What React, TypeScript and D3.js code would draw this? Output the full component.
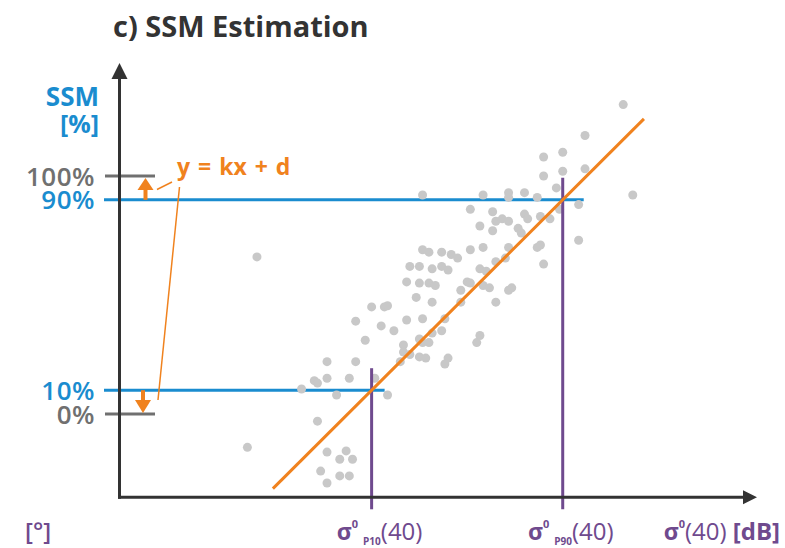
import { useEffect, useRef } from "react";
import * as d3 from "d3";

// backscatter sigma0(40) [dB] vs. surface soil moisture [%]
const sigmaValues = [
  -9.2, -10.4, -11.1, -11.7, -11.1, -10.4, -11.7, -11.3, -8.9, -15.5,
  -13.6, -12.8, -12.8, -12.3, -11.9, -11.2, -10.6, -14.0, -13.3, -12.3,
  -12.2, -11.8, -11.5, -13.2, -13.0, -12.8, -13.7, -13.3, -12.5, -12.4,
  -10.6, -20.7, -15.5, -15.3, -14.9, -14.6, -14.4, -14.0, -13.6, -12.8,
  -11.9, -11.8, -11.7, -15.9, -15.6, -15.2, -14.9, -14.7, -13.7, -13.5,
  -13.2, -12.9, -16.0, -15.6, -15.3, -15.1, -14.1, -14.3, -14.0, -13.6,
  -13.4, -12.8, -12.7, -15.7, -15.2, -14.3, -13.2, -17.1, -16.7, -16.6,
  -17.6, -16.0, -15.5, -16.8, -16.4, -14.8, -14.9, -15.2, -15.6, -15.5,
  -15.3, -17.3, -16.1, -16.1, -15.9, -16.2, -15.6, -15.4, -13.7, -13.8,
  -14.7, -14.8, -18.5, -17.6, -18.9, -18.8, -18.5, -17.8, -17.0, -19.3,
  -18.2, -16.6, -18.8, -21.0, -18.5, -17.9, -18.1, -17.7, -18.7, -18.1,
  -17.8, -18.5,
];
const ssmValues = [
  130, 117, 110, 108, 102, 103, 100, 95, 92, 92,
  92, 93, 91, 93, 91, 86, 88, 86, 85, 84,
  82, 83, 82, 81, 82, 81, 79, 77, 78, 76,
  73, 66, 69, 68, 68, 67, 65.5, 69, 70, 70,
  70, 71, 63, 62, 62, 61, 62, 60.5, 61, 60,
  64, 65.5, 55.5, 55, 55, 54, 55.5, 52, 55, 54,
  53, 52, 53, 49, 47, 47, 47, 45, 45, 45.5,
  39, 39.5, 40, 37, 35, 40, 35, 34, 31.5, 30,
  30, 31, 29, 26, 25, 22, 24, 23.5, 33, 30,
  23.5, 21, 22, 22, 14, 13, 15, 15, 15, 10.5,
  8, 8, -3, -14, -16, -15.5, -19, -19, -24, -26,
  -26, -29,
];

// percentiles of sigma0 and the SSM levels they are mapped to
const percentileNames = ["P10", "P90"];
const percentileSigma = [-17.1, -11.1];
const percentileSsm = [10, 90];
const percentileLabels = ["10%", "90%"];
const boundSsm = [0, 100];
const boundLabels = ["0%", "100%"];
const fitSigmaRange = [-20.2, -8.55];

const blue = "#1a8ccf";
const orange = "#f0821e";
const purple = "#6f4a8e";
const grey = "#707070";
const dark = "#333333";

export default function App() {
  const chartRef = useRef<SVGSVGElement>(null);

  useEffect(() => {
    const svg = d3.select(chartRef.current);
    svg.selectAll("*").remove();

    const x = d3.scaleLinear().domain([-25, -5]).range([120, 757]);
    const y = d3.scaleLinear().domain([0, 100]).range([414, 176]);
    const x0 = x.range()[0] - 0.5;
    const yBase = y(-35);

    // linear model y = kx + d through (P10, 10%) and (P90, 90%)
    const k =
      (percentileSsm[1] - percentileSsm[0]) /
      (percentileSigma[1] - percentileSigma[0]);
    const d = percentileSsm[0] - k * percentileSigma[0];

    // blue percentile levels
    const overshoot = [13, 21];
    percentileSsm.forEach((v, i) => {
      svg
        .append("line")
        .attr("x1", 104)
        .attr("x2", x(percentileSigma[i]) + overshoot[i])
        .attr("y1", y(v))
        .attr("y2", y(v))
        .attr("stroke", blue)
        .attr("stroke-width", 3);
    });

    // grey 0% / 100% ticks
    boundSsm.forEach((v) => {
      svg
        .append("line")
        .attr("x1", 105)
        .attr("x2", 155)
        .attr("y1", y(v))
        .attr("y2", y(v))
        .attr("stroke", grey)
        .attr("stroke-width", 3);
    });

    // scatter
    svg
      .append("g")
      .selectAll("circle")
      .data(sigmaValues)
      .enter()
      .append("circle")
      .attr("cx", (s) => x(s))
      .attr("cy", (_, i) => y(ssmValues[i]))
      .attr("r", 4.5)
      .attr("fill", "#c8c8c8");

    // purple percentile markers
    percentileSigma.forEach((s, i) => {
      svg
        .append("line")
        .attr("x1", x(s))
        .attr("x2", x(s))
        .attr("y1", y(percentileSsm[i]) - 22)
        .attr("y2", yBase + 12)
        .attr("stroke", purple)
        .attr("stroke-width", 3);
    });

    // regression line
    svg
      .append("line")
      .attr("x1", x(fitSigmaRange[0]))
      .attr("y1", y(k * fitSigmaRange[0] + d))
      .attr("x2", x(fitSigmaRange[1]))
      .attr("y2", y(k * fitSigmaRange[1] + d))
      .attr("stroke", orange)
      .attr("stroke-width", 3);

    // axes with arrow heads
    svg
      .append("line")
      .attr("x1", x0)
      .attr("x2", x0)
      .attr("y1", yBase + 1.5)
      .attr("y2", 78)
      .attr("stroke", dark)
      .attr("stroke-width", 3);
    svg
      .append("path")
      .attr("d", `M${x0 - 8},79 L${x0 + 8},79 L${x0},63 Z`)
      .attr("fill", dark);
    svg
      .append("line")
      .attr("x1", x0 - 1.5)
      .attr("x2", 744)
      .attr("y1", yBase)
      .attr("y2", yBase)
      .attr("stroke", dark)
      .attr("stroke-width", 3);
    svg
      .append("path")
      .attr("d", `M743,${yBase - 7} L743,${yBase + 7} L757,${yBase} Z`)
      .attr("fill", dark);

    // orange arrows between the levels
    const up = 145.5;
    svg
      .append("line")
      .attr("x1", up)
      .attr("x2", up)
      .attr("y1", y(90))
      .attr("y2", y(100) + 12)
      .attr("stroke", orange)
      .attr("stroke-width", 4);
    svg
      .append("path")
      .attr("d", `M${up - 8},${y(100) + 14} L${up + 8},${y(100) + 14} L${up},${y(100) + 2} Z`)
      .attr("fill", orange);
    const down = 143;
    svg
      .append("line")
      .attr("x1", down)
      .attr("x2", down)
      .attr("y1", y(10))
      .attr("y2", y(0) - 12)
      .attr("stroke", orange)
      .attr("stroke-width", 4);
    svg
      .append("path")
      .attr("d", `M${down - 8},${y(0) - 14} L${down + 8},${y(0) - 14} L${down},${y(0) - 1} Z`)
      .attr("fill", orange);

    // callout
    svg
      .append("line")
      .attr("x1", 157)
      .attr("y1", 189.5)
      .attr("x2", 172)
      .attr("y2", 182)
      .attr("stroke", orange)
      .attr("stroke-width", 1.5);
    svg
      .append("line")
      .attr("x1", 179.5)
      .attr("y1", 187)
      .attr("x2", 158)
      .attr("y2", 400)
      .attr("stroke", orange)
      .attr("stroke-width", 1.5);
    svg
      .append("text")
      .attr("x", 177)
      .attr("y", 175)
      .attr("fill", orange)
      .attr("font-weight", 700)
      .attr("font-size", 23)
      .attr("word-spacing", 2)
      .text("y = kx + d");

    // title
    svg
      .append("text")
      .attr("x", 113)
      .attr("y", 37)
      .attr("fill", dark)
      .attr("font-weight", 700)
      .attr("font-size", 29)
      .text("c) SSM Estimation");

    // y label
    svg
      .append("text")
      .attr("x", 99)
      .attr("y", 106)
      .attr("text-anchor", "end")
      .attr("fill", blue)
      .attr("font-weight", 700)
      .attr("font-size", 26)
      .text("SSM");
    svg
      .append("text")
      .attr("x", 99)
      .attr("y", 133)
      .attr("text-anchor", "end")
      .attr("fill", blue)
      .attr("font-weight", 700)
      .attr("font-size", 25)
      .text("[%]");

    // y level labels
    boundSsm.forEach((v, i) => {
      svg
        .append("text")
        .attr("x", 95)
        .attr("y", y(v) + 9.5)
        .attr("text-anchor", "end")
        .attr("fill", grey)
        .attr("font-weight", 600)
        .attr("font-size", 26)
        .attr("letter-spacing", 0.5)
        .text(boundLabels[i]);
    });
    percentileSsm.forEach((v, i) => {
      svg
        .append("text")
        .attr("x", 95)
        .attr("y", y(v) + 9.5)
        .attr("text-anchor", "end")
        .attr("fill", blue)
        .attr("font-weight", 600)
        .attr("font-size", 26)
        .attr("letter-spacing", 0.5)
        .text(percentileLabels[i]);
    });

    // x labels
    const sigmaLabel = (tx: number, anchor: string, sub: string | null, unit: boolean) => {
      const t = svg
        .append("text")
        .attr("x", tx)
        .attr("y", 540)
        .attr("text-anchor", anchor)
        .attr("fill", purple)
        .attr("font-size", 24);
      t.append("tspan").attr("font-weight", 700).attr("font-size", 23).text("σ");
      t.append("tspan")
        .attr("font-weight", 700)
        .attr("font-size", 11)
        .attr("dy", -12)
        .text("0");
      if (sub) {
        t.append("tspan")
          .attr("font-weight", 700)
          .attr("font-size", 10)
          .attr("dx", 5)
          .attr("dy", 17)
          .text(sub);
        t.append("tspan").attr("dy", -5).text("(40)");
      } else {
        t.append("tspan").attr("dy", 12).text("(40)");
      }
      if (unit) t.append("tspan").attr("font-weight", 700).text(" [dB]");
    };
    percentileSigma.forEach((s, i) => {
      sigmaLabel(x(s) + 8, "middle", percentileNames[i], false);
    });
    sigmaLabel(780, "end", null, true);

    svg
      .append("text")
      .attr("x", 25)
      .attr("y", 540)
      .attr("fill", purple)
      .attr("font-weight", 600)
      .attr("font-size", 24)
      .text("[°]");
  }, []);

  return (
    <svg
      ref={chartRef}
      width={785}
      height={548}
      fontFamily="'Open Sans', sans-serif"
      style={{ position: "absolute", left: 0, top: 0, display: "block" }}
    />
  );
}
